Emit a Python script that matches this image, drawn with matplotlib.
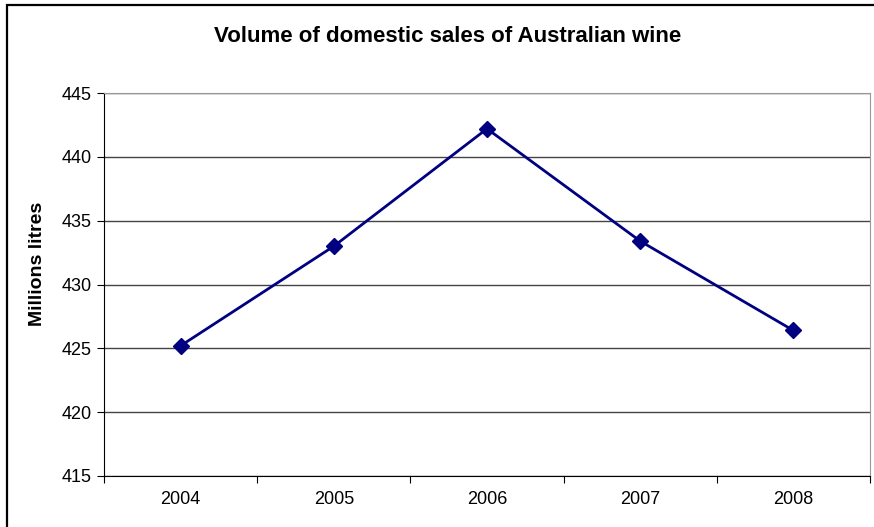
import matplotlib.pyplot as plt
from matplotlib.patches import Rectangle

years = ['2004', '2005', '2006', '2007', '2008']
volume = [425.2, 433.0, 442.2, 433.4, 426.4]
y_ticks = [415, 420, 425, 430, 435, 440, 445]

plt.rcParams['font.family'] = ['Liberation Sans', 'DejaVu Sans']

fig = plt.figure(figsize=(8.74, 5.27), dpi=100)
ax = fig.add_axes([104 / 874, 1 - 476 / 527, 766 / 874, 383 / 527])

# black frame round the chart (only left and top are in view)
fig.patches.append(Rectangle((7 / 874, -0.1), 1.2, 1.1 - 5 / 527, transform=fig.transFigure,
                             fill=False, edgecolor='black', linewidth=1.6))

x = list(range(len(years)))
ax.plot(x, volume, color='#000080', linewidth=2, marker='D', markersize=8.5,
        markerfacecolor='#000080', markeredgecolor='#000080')

ax.set_xlim(-0.5, len(years) - 0.5)
ax.set_ylim(415, 445)
ax.set_yticks(y_ticks)
ax.set_yticklabels([str(v) for v in y_ticks], fontsize=13)
ax.set_xticks([i - 0.5 for i in range(len(years) + 1)])
ax.set_xticklabels([])
ax.set_xticks(x, minor=True)
ax.set_xticklabels(years, minor=True, fontsize=13)
ax.tick_params(axis='x', which='minor', length=0, pad=11)
ax.tick_params(axis='x', which='major', length=5, direction='out', color='black')
ax.tick_params(axis='y', length=5, direction='out', pad=4)

ax.grid(axis='y', color='#444444', linewidth=1)
ax.set_axisbelow(True)
for s in ['top', 'right']:
    ax.spines[s].set_color('#999999')
ax.spines['left'].set_color('black')
ax.spines['bottom'].set_color('black')

# y label sits a little above the middle of the axis, as in the original
fig.text(38 / 874, 1 - 264 / 527, 'Millions litres', rotation=90,
         ha='center', va='center', fontsize=14, fontweight='bold')
fig.text(448 / 874, 1 - 37 / 527, 'Volume of domestic sales of Australian wine',
         ha='center', va='center', fontsize=16, fontweight='bold')

plt.savefig('out.png', dpi=100)
